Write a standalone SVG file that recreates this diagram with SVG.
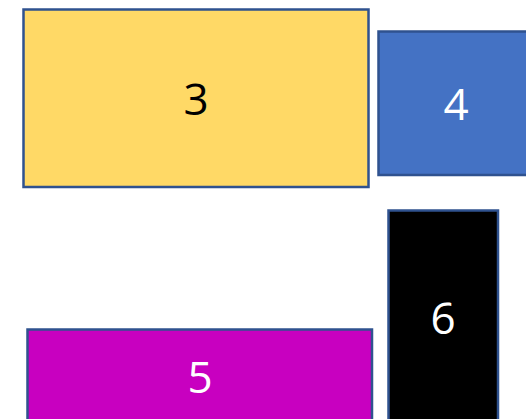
<svg xmlns="http://www.w3.org/2000/svg" width="526" height="419" viewBox="0 0 526 419">
<style>
.box{stroke:#2F528F;stroke-width:2.5}
.lbl{font-family:"Open Sans","Liberation Sans",sans-serif;font-size:44px;text-anchor:middle}
</style>
<rect width="526" height="419" fill="#ffffff"/>
<g id="node3"><rect class="box" x="23.5" y="9.5" width="345" height="177.5" fill="#FFD966"/><text class="lbl" x="196" y="115" fill="#000000">3</text></g>
<g id="node4"><rect class="box" x="378.5" y="31.5" width="160" height="143.5" fill="#4472C4"/><text class="lbl" x="456" y="120" fill="#ffffff">4</text></g>
<g id="node6"><rect class="box" x="388.5" y="210.5" width="109.5" height="230" fill="#000000"/><text class="lbl" x="443" y="334" fill="#ffffff">6</text></g>
<g id="node5"><rect class="box" x="27.5" y="329.5" width="344.5" height="110" fill="#C800C0"/><text class="lbl" x="200" y="393" fill="#ffffff">5</text></g>
<g id="connectors"></g>
</svg>
